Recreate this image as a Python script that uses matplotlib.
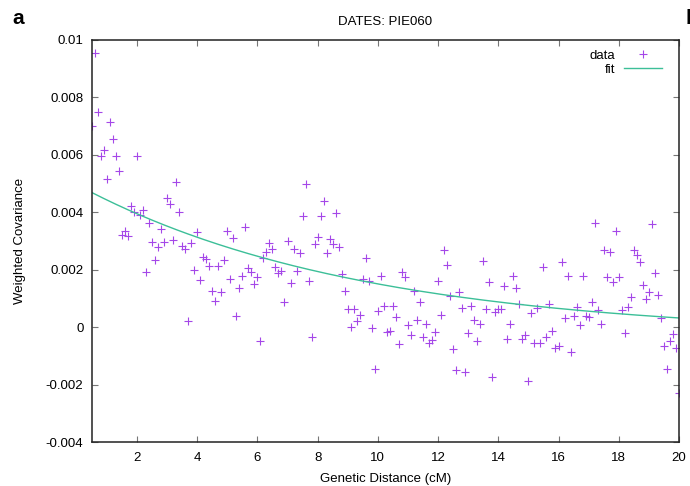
import numpy as np
import matplotlib
matplotlib.use("Agg")
import matplotlib.pyplot as plt

plt.rcParams['font.family'] = ['Liberation Sans', 'DejaVu Sans']

# genetic distance bins (cM)
dist_cm = [
    0.5, 0.6, 0.7, 0.8, 0.9, 1.0, 1.1, 1.2, 1.3, 1.4,
    1.5, 1.6, 1.7, 1.8, 1.9, 2.0, 2.1, 2.2, 2.3, 2.4,
    2.5, 2.6, 2.7, 2.8, 2.9, 3.0, 3.1, 3.2, 3.3, 3.4,
    3.5, 3.6, 3.7, 3.8, 3.9, 4.0, 4.1, 4.2, 4.3, 4.4,
    4.5, 4.6, 4.7, 4.8, 4.9, 5.0, 5.1, 5.2, 5.3, 5.4,
    5.5, 5.6, 5.7, 5.8, 5.9, 6.0, 6.1, 6.2, 6.3, 6.4,
    6.5, 6.6, 6.7, 6.8, 6.9, 7.0, 7.1, 7.2, 7.3, 7.4,
    7.5, 7.6, 7.7, 7.8, 7.9, 8.0, 8.1, 8.2, 8.3, 8.4,
    8.5, 8.6, 8.7, 8.8, 8.9, 9.0, 9.1, 9.2, 9.3, 9.4,
    9.5, 9.6, 9.7, 9.8, 9.9, 10.0, 10.1, 10.2, 10.3, 10.4,
    10.5, 10.6, 10.7, 10.8, 10.9, 11.0, 11.1, 11.2, 11.3, 11.4,
    11.5, 11.6, 11.7, 11.8, 11.9, 12.0, 12.1, 12.2, 12.3, 12.4,
    12.5, 12.6, 12.7, 12.8, 12.9, 13.0, 13.1, 13.2, 13.3, 13.4,
    13.5, 13.6, 13.7, 13.8, 13.9, 14.0, 14.1, 14.2, 14.3, 14.4,
    14.5, 14.6, 14.7, 14.8, 14.9, 15.0, 15.1, 15.2, 15.3, 15.4,
    15.5, 15.6, 15.7, 15.8, 15.9, 16.0, 16.1, 16.2, 16.3, 16.4,
    16.5, 16.6, 16.7, 16.8, 16.9, 17.0, 17.1, 17.2, 17.3, 17.4,
    17.5, 17.6, 17.7, 17.8, 17.9, 18.0, 18.1, 18.2, 18.3, 18.4,
    18.5, 18.6, 18.7, 18.8, 18.9, 19.0, 19.1, 19.2, 19.3, 19.4,
    19.5, 19.6, 19.7, 19.8, 19.9, 20.0,
]

# weighted covariance, in units of 1e-3
cov_e3 = [
    7.00, 9.55, 7.49, 5.97, 6.15, 5.17, 7.14, 6.55, 5.94, 5.42,
    3.21, 3.33, 3.18, 4.20, 3.99, 5.94, 3.91, 4.09, 1.93, 3.64,
    2.98, 2.32, 2.78, 3.41, 2.95, 4.49, 4.28, 3.02, 5.05, 4.01,
    2.83, 2.72, 0.22, 2.93, 2.00, 3.30, 1.65, 2.44, 2.37, 2.14,
    1.27, 0.92, 2.14, 1.22, 2.34, 3.33, 1.68, 3.10, 0.37, 1.36,
    1.79, 3.48, 2.05, 1.91, 1.51, 1.74, -0.50, 2.39, 2.61, 2.93,
    2.72, 2.09, 1.88, 1.94, 0.86, 3.01, 1.53, 2.72, 1.95, 2.58,
    3.86, 4.98, 1.61, -0.33, 2.90, 3.13, 3.86, 4.40, 2.58, 3.06,
    2.90, 3.97, 2.78, 1.86, 1.27, 0.62, 0.00, 0.62, 0.23, 0.42,
    1.67, 2.40, 1.62, -0.03, -1.47, 0.55, 1.79, 0.75, -0.17, -0.12,
    0.72, 0.34, -0.58, 1.91, 1.74, 0.08, -0.29, 1.24, 0.25, 0.89,
    -0.36, 0.12, -0.54, -0.44, -0.17, 1.59, 0.43, 2.67, 2.17, 1.09,
    -0.77, -1.49, 1.21, 0.66, -1.56, -0.21, 0.75, 0.25, -0.48, 0.12,
    2.29, 0.64, 1.58, -1.72, 0.52, 0.62, 0.62, 1.44, -0.42, 0.12,
    1.79, 1.36, 0.81, -0.42, -0.26, -1.86, 0.49, -0.54, 0.66, -0.54,
    2.09, -0.33, 0.81, -0.12, -0.73, -0.65, 2.26, 0.30, 1.77, -0.87,
    0.39, 0.70, 0.08, 1.77, 0.39, 0.34, 0.86, 3.62, 0.60, 0.12,
    2.67, 1.74, 2.61, 1.57, 3.33, 1.73, 0.58, -0.21, 0.70, 1.04,
    2.67, 2.50, 2.25, 1.45, 0.97, 1.23, 3.60, 1.90, 1.12, 0.31,
    -0.65, -1.45, -0.50, -0.25, -0.73, -2.28,
]

# exponential fit: amp * exp(-rate * d) + affine
fit_amp = 0.00526
fit_rate = 0.107
fit_affine = -0.0003

x_ticks = [2, 4, 6, 8, 10, 12, 14, 16, 18, 20]
y_ticks = [-0.004, -0.002, 0, 0.002, 0.004, 0.006, 0.008, 0.01]

x = np.array(dist_cm)
y = np.array(cov_e3) * 1e-3
y_fit = fit_amp * np.exp(-fit_rate * x) + fit_affine

fig = plt.figure(figsize=(6.9, 4.86), dpi=100)
ax = fig.add_axes([0.133, 0.0905, 0.851, 0.8275])

ax.plot(x, y, linestyle='none', marker='+', markersize=5.5, markeredgewidth=0.8,
        color='#a447e8', label='data')
ax.plot(x, y_fit, color='#3cbf98', linewidth=1.0, label='fit')

ax.set_xlim(0.5, 20)
ax.set_ylim(-0.004, 0.01)
ax.set_xticks(x_ticks)
ax.set_yticks(y_ticks)
ax.set_yticklabels(['%g' % v for v in y_ticks])

ax.tick_params(direction='in', top=True, right=True, length=4.5, width=0.8,
               color='#777777', labelsize=9.5, labelcolor='black')
ax.tick_params(axis='y', pad=6)
ax.tick_params(axis='x', pad=7)
for sp in ax.spines.values():
    sp.set_linewidth(1.1)
    sp.set_color('#222222')

ax.set_xlabel('Genetic Distance (cM)', fontsize=9.5, labelpad=7)
ax.set_ylabel('Weighted Covariance', fontsize=9.5, labelpad=14)
ax.set_title('DATES: PIE060', fontsize=9.5, pad=11)

ax.legend(loc='upper right', bbox_to_anchor=(0.983, 0.993), frameon=False,
          markerfirst=False, fontsize=9.5, handlelength=2.9, handletextpad=0.7,
          labelspacing=0.15, borderaxespad=0.3, borderpad=0.2)

fig.text(0.018, 0.95, 'a', fontsize=15, fontweight='bold', ha='left', va='baseline')
fig.text(0.993, 0.95, 'b', fontsize=15, fontweight='bold', ha='left', va='baseline')

fig.savefig('out.png', dpi=100)
